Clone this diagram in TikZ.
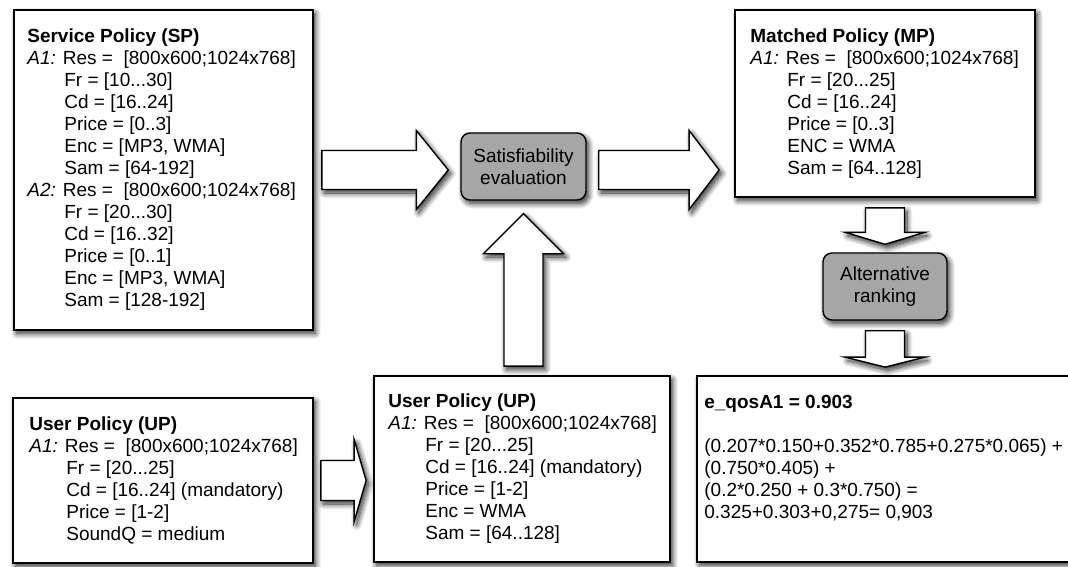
\documentclass[tikz,border=0pt]{standalone}
\usepackage{fontspec}
\setmainfont{Liberation Sans}
\usetikzlibrary{calc,shadows.blur}

% indent of the attribute lines below "Res"
\newcommand\polind{\hspace*{37pt}}

% block arrow from #2 to #3: shaft half width #4, head half width #5, head length #6
\newcommand\blockarrow[6][]{%
  \coordinate (ba-s) at (#2);
  \coordinate (ba-e) at (#3);
  \coordinate (ba-h) at ($(ba-e)!#6!(ba-s)$);
  \draw[barrow,#1] ($(ba-s)!#4!90:(ba-e)$) -- ($(ba-h)!#4!90:(ba-e)$)
    -- ($(ba-h)!#5!90:(ba-e)$) -- (ba-e) -- ($(ba-h)!#5!-90:(ba-e)$)
    -- ($(ba-h)!#4!-90:(ba-e)$) -- ($(ba-s)!#4!-90:(ba-e)$) -- cycle;
}

\tikzset{
  softshadow/.style={blur shadow={shadow xshift=2.5pt, shadow yshift=-3.5pt,
      shadow blur radius=5.5pt, shadow blur steps=12, shadow opacity=85}},
  policybox/.style={draw=black, line width=1.7pt, fill=white, inner sep=0pt,
      softshadow},
  stepbox/.style={draw=black, line width=1.4pt, fill=black!35, rounded corners=9pt,
      inner sep=0pt, align=center, font=\bodyfont, softshadow},
  bodytext/.style={align=left, inner sep=0pt, anchor=west, font=\bodyfont,
      text=black},
  barrow/.style={draw=black, line width=1.4pt, fill=white, line join=miter,
      softshadow},
}
\newcommand\bodyfont{\fontsize{19}{22}\selectfont}

\begin{document}
\begin{tikzpicture}[x=1pt, y=-1pt]
\useasboundingbox (0,0) rectangle (1068,567);
\clip (0,0) rectangle (1068,567);

% policy boxes
\node[policybox, minimum width=299, minimum height=320] (sp) at (163.5,170) {};
\node[policybox, minimum width=300, minimum height=165] (upa) at (163,480.5) {};
\node[policybox, minimum width=296, minimum height=186] (upb) at (522,469) {};
\node[policybox, minimum width=300, minimum height=187] (mp) at (885,103.5) {};
\node[policybox, minimum width=390, minimum height=186] (qos) at (892,469) {};

% processing steps
\node[stepbox, minimum width=125, minimum height=67] (sat) at (523.5,166.5)
  {Satisfiability\\evaluation};
\node[stepbox, minimum width=124, minimum height=67] (alt) at (885,286.5)
  {Alternative\\ranking};

% box contents
\node[bodytext] (sp-text) at ($(sp.west)+(14,0)$) {%
  \textbf{Service Policy (SP)}\\
  \textit{A1:} Res = ~[800x600;1024x768]\\
  \polind Fr = [10...30]\\
  \polind Cd = [16..24]\\
  \polind Price = [0..3]\\
  \polind Enc = [MP3, WMA]\\
  \polind Sam = [64-192]\\
  \textit{A2:} Res = ~[800x600;1024x768]\\
  \polind Fr = [20...30]\\
  \polind Cd = [16..32]\\
  \polind Price = [0..1]\\
  \polind Enc = [MP3, WMA]\\
  \polind Sam = [128-192]};

\node[bodytext] (upa-text) at ($(upa.west)+(17,0)$) {%
  \textbf{User Policy (UP)}\\
  \textit{A1:} Res = ~[800x600;1024x768]\\
  \polind Fr = [20...25]\\
  \polind Cd = [16..24] (mandatory)\\
  \polind Price = [1-2]\\
  \polind SoundQ = medium};

\node[bodytext] (upb-text) at ($(upb.west)+(15,0)$) {%
  \textbf{User Policy (UP)}\\
  \textit{A1:} Res = ~[800x600;1024x768]\\
  \polind Fr = [20...25]\\
  \polind Cd = [16..24] (mandatory)\\
  \polind Price = [1-2]\\
  \polind Enc = WMA\\
  \polind Sam = [64..128]};

\node[bodytext] (mp-text) at ($(mp.west)+(16,0)$) {%
  \textbf{Matched Policy (MP)}\\
  \textit{A1:} Res = ~[800x600;1024x768]\\
  \polind Fr = [20...25]\\
  \polind Cd = [16..24]\\
  \polind Price = [0..3]\\
  \polind ENC = WMA\\
  \polind Sam = [64..128]};

\node[bodytext, anchor=north west] (qos-text) at ($(qos.north west)+(8,20)$) {%
  \textbf{e\_qosA1 = 0.903}\\[22pt]
  (0.207*0.150+0.352*0.785+0.275*0.065) +\\
  (0.750*0.405) +\\
  (0.2*0.250 + 0.3*0.750) =\\
  0.325+0.303+0,275= 0,903};

% flow arrows
\blockarrow{$(sp.east)+(8,0)$}{$(sp.east -| sat.west)+(-12,0)$}{19.5pt}{39.5pt}{32pt}
\blockarrow{$(sp.east -| sat.east)+(12,0)$}{$(sp.east -| mp.west)+(-15,0)$}{19.5pt}{39.5pt}{30pt}
\blockarrow{$(upb.north -| sat.south)+(0,-9)$}{$(sat.south)+(0,13)$}{19.5pt}{40pt}{40pt}
\blockarrow{$(upa.east)+(7,0)$}{$(upa.east -| upb.west)+(-7,0)$}{20pt}{41pt}{12pt}
\blockarrow{$(mp.south)+(0,10)$}{$(alt.north)+(0,-8)$}{19.5pt}{40pt}{12pt}
\blockarrow{$(alt.south)+(0,10)$}{$(qos.north -| alt.south)+(0,-8)$}{19.5pt}{40pt}{10pt}
\end{tikzpicture}
\end{document}
